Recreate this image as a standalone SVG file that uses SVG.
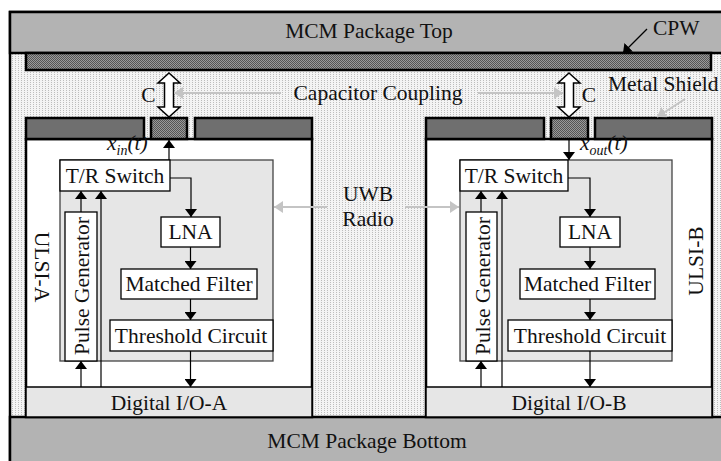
<svg xmlns="http://www.w3.org/2000/svg" width="721" height="461" viewBox="0 0 721 461">
<defs>
<pattern id="dots" width="3" height="2" patternUnits="userSpaceOnUse">
<rect width="3" height="2" fill="#f4f4f4"/>
<rect x="0" y="0" width="1" height="1" fill="#bdbdbd"/>
</pattern>
<pattern id="hatch" width="2" height="2" patternUnits="userSpaceOnUse">
<rect width="2" height="2" fill="#9a9a9a"/>
<rect x="0" y="0" width="1" height="1" fill="#555"/>
<rect x="1" y="1" width="1" height="1" fill="#555"/>
</pattern>
<marker id="ah" viewBox="0 0 8 12" refX="8" refY="6" markerWidth="8" markerHeight="12" markerUnits="userSpaceOnUse" orient="auto">
<path d="M0,0 L8,6 L0,12 z" fill="#000"/>
</marker>
<marker id="gh" viewBox="0 0 9 12" refX="9" refY="6" markerWidth="9" markerHeight="12" markerUnits="userSpaceOnUse" orient="auto">
<path d="M0,0 L9,6 L0,12 z" fill="#c4c4c4"/>
</marker>
</defs>
<style>
text{font-family:"Liberation Serif","Times New Roman",serif;font-size:21.5px;fill:#111}
.c{text-anchor:middle}
.band{fill:#b3b3b3;stroke:#000;stroke-width:2.5}
.shield{fill:#6f6f6f;stroke:#000;stroke-width:2.5}
.hat{fill:url(#hatch);stroke:#000;stroke-width:2.5}
.chip{fill:#fff;stroke:#000;stroke-width:2.5}
.dio{fill:#e6e6e6;stroke:#000;stroke-width:1.5}
.region{fill:#e6e6e6;stroke:#444;stroke-width:1.3}
.box{fill:#fff;stroke:#000;stroke-width:1.3}
.wire{fill:none;stroke:#000;stroke-width:1.2}
.arr{fill:none;stroke:#000;stroke-width:1.2;marker-end:url(#ah)}
.garr{fill:none;stroke:#c4c4c4;stroke-width:2;marker-end:url(#gh)}
.cap{fill:#fff;stroke:#000;stroke-width:1.5}
.it{font-style:italic}
</style>

<!-- background -->
<rect x="10" y="53" width="720" height="364" fill="url(#dots)"/>
<rect x="10" y="12" width="720" height="460" fill="none" stroke="#000" stroke-width="2.5"/>

<g id="package-top">
<rect class="band" x="10" y="12" width="720" height="41"/>
<text class="c" x="369" y="38">MCM Package Top</text>
</g>
<g id="cpw">
<rect class="hat" x="26" y="53" width="685" height="17"/>
</g>
<g id="package-bottom">
<rect class="band" x="10" y="417" width="720" height="50"/>
<text class="c" x="367" y="448">MCM Package Bottom</text>
</g>

<!-- ULSI-A -->
<g id="ulsi-a">
<rect class="chip" x="26" y="139" width="286" height="278"/>
<text transform="translate(35,267) rotate(90)" class="c">ULSI-A</text>
</g>
<g id="shield-a">
<rect class="shield" x="26" y="118" width="118" height="21"/>
<rect class="hat" x="151" y="118" width="36" height="21"/>
<rect class="shield" x="195" y="118" width="117" height="21"/>
</g>
<g id="dio-a">
<rect class="dio" x="26" y="387" width="286" height="30"/>
<text class="c" x="169" y="410">Digital I/O-A</text>
</g>
<g id="radio-a">
<rect class="region" x="60" y="160" width="213" height="201"/>
</g>
<g id="tr-a">
<rect class="box" x="60" y="160" width="110" height="31"/>
<text class="c" x="115" y="183">T/R Switch</text>
</g>
<g id="pulse-a">
<rect class="box" x="65" y="212" width="32" height="149"/>
<text transform="translate(89,286) rotate(-90)" class="c">Pulse Generator</text>
</g>
<g id="lna-a">
<rect class="box" x="161" y="217" width="59" height="30"/>
<text class="c" x="190.5" y="239">LNA</text>
</g>
<g id="mf-a">
<rect class="box" x="121" y="269" width="136" height="30"/>
<text class="c" x="189" y="291">Matched Filter</text>
</g>
<g id="tc-a">
<rect class="box" x="110" y="320" width="163" height="31"/>
<text class="c" x="191" y="343">Threshold Circuit</text>
</g>

<!-- ULSI-B -->
<g id="ulsi-b">
<rect class="chip" x="426" y="139" width="286" height="278"/>
<text transform="translate(703,261) rotate(-90)" class="c">ULSI-B</text>
</g>
<g id="shield-b">
<rect class="shield" x="426" y="118" width="118" height="21"/>
<rect class="hat" x="551" y="118" width="37" height="21"/>
<rect class="shield" x="595" y="118" width="117" height="21"/>
</g>
<g id="dio-b">
<rect class="dio" x="426" y="387" width="286" height="30"/>
<text class="c" x="569" y="410">Digital I/O-B</text>
</g>
<g id="radio-b">
<rect class="region" x="460" y="160" width="212" height="201"/>
</g>
<g id="tr-b">
<rect class="box" x="460" y="160" width="108" height="31"/>
<text class="c" x="514" y="183">T/R Switch</text>
</g>
<g id="pulse-b">
<rect class="box" x="466" y="212" width="31" height="149"/>
<text transform="translate(490,286) rotate(-90)" class="c">Pulse Generator</text>
</g>
<g id="lna-b">
<rect class="box" x="560" y="217" width="60" height="30"/>
<text class="c" x="590" y="239">LNA</text>
</g>
<g id="mf-b">
<rect class="box" x="520" y="269" width="135" height="30"/>
<text class="c" x="587.5" y="291">Matched Filter</text>
</g>
<g id="tc-b">
<rect class="box" x="508" y="320" width="164" height="31"/>
<text class="c" x="590" y="343">Threshold Circuit</text>
</g>

<!-- labels -->
<g id="labels">
<text class="c" x="378" y="100">Capacitor Coupling</text>
<text class="c" x="148.5" y="102">C</text>
<text class="c" x="589" y="102">C</text>
<text x="653" y="35">CPW</text>
<text x="608" y="91">Metal Shield</text>
<text class="c" x="368" y="201">UWB</text>
<text class="c" x="368" y="226">Radio</text>
<text class="it" x="107" y="150">x<tspan font-size="14" dy="5">in</tspan><tspan dy="-5">(t)</tspan></text>
<text class="it" x="580" y="150">x<tspan font-size="14" dy="5">out</tspan><tspan dy="-5">(t)</tspan></text>
</g>

<g id="connectors">
<!-- capacitors -->
<path class="cap" d="M169,73 L180,83 L173.5,83 L173.5,107 L180,107 L169,117 L158,107 L164.5,107 L164.5,83 L158,83 Z"/>
<path class="cap" d="M569,73 L580,83 L573.5,83 L573.5,107 L580,107 L569,117 L558,107 L564.5,107 L564.5,83 L558,83 Z"/>
<!-- gray pointers -->
<path class="garr" d="M281,93 H174"/>
<path class="garr" d="M478,93 H563"/>
<path class="garr" d="M327,207 H274"/>
<path class="garr" d="M405,207 H459"/>
<path class="garr" d="M685,99 L657,117"/>
<path class="arr" d="M647,29 L623,53"/>
<!-- chip A -->
<path class="arr" d="M169,160 V140"/>
<path class="arr" d="M170,178 H191 V217"/>
<path class="arr" d="M190.5,247 V269"/>
<path class="arr" d="M190.5,299 V320"/>
<path class="arr" d="M190.5,351 V387"/>
<path class="arr" d="M81,387 V361"/>
<path class="arr" d="M81,212 V191"/>
<path class="arr" d="M101,387 V191"/>
<!-- chip B -->
<path class="arr" d="M569,139 V160"/>
<path class="arr" d="M568,178 H590 V217"/>
<path class="arr" d="M590,247 V269"/>
<path class="arr" d="M590,299 V320"/>
<path class="arr" d="M590,351 V387"/>
<path class="arr" d="M481,387 V361"/>
<path class="arr" d="M481,212 V191"/>
<path class="arr" d="M502,387 V191"/>
</g>
</svg>
